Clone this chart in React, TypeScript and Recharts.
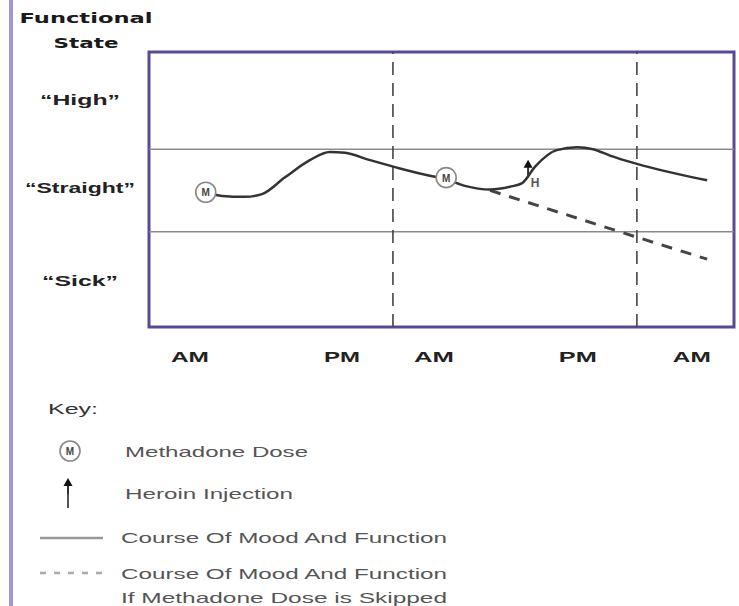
import React from 'react';
import {
  ComposedChart,
  Line,
  ReferenceArea,
  ReferenceDot,
  ReferenceLine,
  XAxis,
  YAxis,
} from 'recharts';

// time runs 0..100 across the box, functional state 0..3 from bottom to top
const xTicks = [7.0, 33.0, 48.7, 73.3, 92.8];
const xTickLabels = ['AM', 'PM', 'AM', 'PM', 'AM'];
const xTickWidths = [38, 36, 40, 38, 38];

const yTicks = [0.51, 1.52, 2.48];
const yTickLabels = ['\u201cSick\u201d', '\u201cStraight\u201d', '\u201cHigh\u201d'];
const yTickWidths = [76, 110, 80];

const bandLines = [1.04, 1.94];
const dayLines = [41.7, 83.4];

const moodX = [9.7, 12.5, 16.4, 19.3, 23.2, 27.5, 30.9, 33.5, 37.8, 42.9, 48.0, 50.9, 54.0, 58.3, 61.7, 63.8, 66.0, 69.7, 73.2, 75.9, 78.8, 83.4, 95.4];
const moodY = [1.47, 1.43, 1.42, 1.45, 1.63, 1.82, 1.91, 1.90, 1.82, 1.73, 1.65, 1.61, 1.54, 1.50, 1.53, 1.57, 1.75, 1.93, 1.96, 1.94, 1.87, 1.78, 1.60];

const skippedX = [58.3, 83.4, 95.4];
const skippedY = [1.49, 0.98, 0.74];

const doseX = [9.7, 50.8];
const doseY = [1.47, 1.63];

const heroinX = [64.8];
const heroinY = [1.76];

const mood = moodX.map((x, i) => ({ x, y: moodY[i] }));
const skipped = skippedX.map((x, i) => ({ x, y: skippedY[i] }));

const labelFont = '"Liberation Sans", Arial, sans-serif';

function XTick(props: any) {
  const i = xTicks.indexOf(props.payload?.value);
  if (i < 0) return null;
  return (
    <text
      x={props.x}
      y={356}
      textAnchor="middle"
      dominantBaseline="central"
      fontFamily={labelFont}
      fontWeight="bold"
      fontSize={15}
      fill="#222"
      textLength={xTickWidths[i]}
      lengthAdjust="spacingAndGlyphs"
    >
      {xTickLabels[i]}
    </text>
  );
}

function YTick(props: any) {
  const i = yTicks.indexOf(props.payload?.value);
  if (i < 0) return null;
  return (
    <text
      x={80}
      y={props.y}
      textAnchor="middle"
      dominantBaseline="central"
      fontFamily={labelFont}
      fontWeight="bold"
      fontSize={15}
      fill="#222"
      textLength={yTickWidths[i]}
      lengthAdjust="spacingAndGlyphs"
    >
      {yTickLabels[i]}
    </text>
  );
}

function DoseMark({ cx, cy }: { cx?: number; cy?: number }) {
  if (cx == null || cy == null) return null;
  return (
    <g>
      <circle cx={cx} cy={cy} r={10} fill="#fff" stroke="#888" strokeWidth={1.6} />
      <text
        x={cx}
        y={cy + 0.5}
        textAnchor="middle"
        dominantBaseline="central"
        fontFamily={labelFont}
        fontWeight="bold"
        fontSize={10}
        fill="#444"
      >
        M
      </text>
    </g>
  );
}

function HeroinMark({ cx, cy, label = true }: { cx?: number; cy?: number; label?: boolean }) {
  if (cx == null || cy == null) return null;
  return (
    <g>
      <line x1={cx} y1={cy} x2={cx} y2={cy + 10} stroke="#333" strokeWidth={2} />
      <path d={`M${cx},${cy - 6} L${cx - 4.5},${cy + 2} L${cx + 4.5},${cy + 2} Z`} fill="#111" />
      {label && (
        <text
          x={cx + 7}
          y={cy + 17}
          textAnchor="middle"
          dominantBaseline="central"
          fontFamily={labelFont}
          fontWeight="bold"
          fontSize={12}
          fill="#555"
        >
          H
        </text>
      )}
    </g>
  );
}

function KeyText({ x, y, w, children }: { x: number; y: number; w: number; children: string }) {
  return (
    <text
      x={x}
      y={y}
      dominantBaseline="central"
      fontFamily={labelFont}
      fontSize={15}
      fill="#555"
      textLength={w}
      lengthAdjust="spacingAndGlyphs"
    >
      {children}
    </text>
  );
}

export default function App() {
  return (
    <div style={{ position: 'absolute', left: 0, top: 0, width: 739, height: 606, overflow: 'hidden', background: '#fff' }}>
      <ComposedChart width={739} height={606} margin={{ top: 52, right: 5, bottom: 0, left: 0 }}>
        <XAxis
          type="number"
          dataKey="x"
          domain={[0, 100]}
          ticks={xTicks}
          interval={0}
          axisLine={false}
          tickLine={false}
          height={279}
          tick={<XTick />}
          allowDataOverflow
        />
        <YAxis
          type="number"
          dataKey="y"
          domain={[0, 3]}
          ticks={yTicks}
          interval={0}
          axisLine={false}
          tickLine={false}
          width={149}
          tick={<YTick />}
          allowDataOverflow
        />
        {bandLines.map((v) => (
          <ReferenceLine key={`b${v}`} y={v} stroke="#8a8a8a" strokeWidth={1.5} />
        ))}
        {dayLines.map((v) => (
          <ReferenceLine key={`d${v}`} x={v} stroke="#444" strokeWidth={1.6} strokeDasharray="13 8" />
        ))}
        <Line
          data={skipped}
          dataKey="y"
          type="linear"
          stroke="#444"
          strokeWidth={3}
          strokeDasharray="11 9"
          dot={false}
          isAnimationActive={false}
        />
        <Line
          data={mood}
          dataKey="y"
          type="monotone"
          stroke="#333"
          strokeWidth={2.5}
          dot={false}
          isAnimationActive={false}
        />
        {doseX.map((x, i) => (
          <ReferenceDot key={`m${i}`} x={x} y={doseY[i]} r={10} shape={(p: any) => <DoseMark cx={p.cx} cy={p.cy} />} />
        ))}
        {heroinX.map((x, i) => (
          <ReferenceDot key={`h${i}`} x={x} y={heroinY[i]} r={6} shape={(p: any) => <HeroinMark cx={p.cx} cy={p.cy} />} />
        ))}
        <ReferenceArea
          x1={0}
          x2={100}
          y1={0}
          y2={3}
          fill="none"
          fillOpacity={0}
          stroke="#5a4896"
          strokeWidth={3}
          ifOverflow="visible"
        />
      </ComposedChart>
      <svg
        width={739}
        height={606}
        style={{ position: 'absolute', left: 0, top: 0, pointerEvents: 'none' }}
      >
        <rect x={9} y={0} width={4} height={606} fill="#a596cf" />
        <text
          x={86}
          y={18}
          textAnchor="middle"
          dominantBaseline="central"
          fontFamily='"DejaVu Sans", sans-serif'
          fontWeight="bold"
          fontSize={14}
          fill="#1a1a1a"
          textLength={133}
          lengthAdjust="spacingAndGlyphs"
        >
          Functional
        </text>
        <text
          x={86}
          y={43}
          textAnchor="middle"
          dominantBaseline="central"
          fontFamily='"DejaVu Sans", sans-serif'
          fontWeight="bold"
          fontSize={14}
          fill="#1a1a1a"
          textLength={65}
          lengthAdjust="spacingAndGlyphs"
        >
          State
        </text>
        <text
          x={48}
          y={408}
          dominantBaseline="central"
          fontFamily={labelFont}
          fontSize={15}
          fill="#333"
          textLength={50}
          lengthAdjust="spacingAndGlyphs"
        >
          Key:
        </text>
        <DoseMark cx={70} cy={451} />
        <KeyText x={125} y={451} w={183}>Methadone Dose</KeyText>
        <HeroinMark cx={68} cy={484} label={false} />
        <line x1={68} y1={494} x2={68} y2={508} stroke="#555" strokeWidth={2} />
        <KeyText x={125} y={493} w={168}>Heroin Injection</KeyText>
        <line x1={40} y1={538} x2={103} y2={538} stroke="#999" strokeWidth={2.5} />
        <KeyText x={121} y={537} w={326}>Course Of Mood And Function</KeyText>
        <line x1={40} y1={573} x2={103} y2={573} stroke="#aaa" strokeWidth={2.5} strokeDasharray="6 8" />
        <KeyText x={121} y={573} w={326}>Course Of Mood And Function</KeyText>
        <KeyText x={121} y={597} w={326}>If Methadone Dose is Skipped</KeyText>
      </svg>
    </div>
  );
}
